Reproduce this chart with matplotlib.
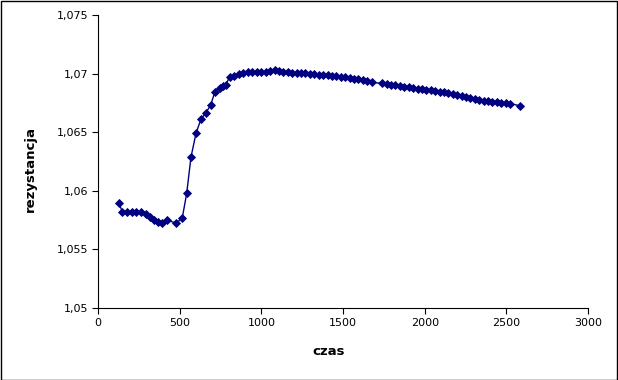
import matplotlib
matplotlib.use("Agg")
import matplotlib.pyplot as plt
from matplotlib.patches import Rectangle

# czas [s] i rezystancja
czas = [128, 149, 177, 206, 234, 263, 292, 320, 345, 369, 394, 422, 479, 516,
        543, 569, 600, 630, 661, 690, 716, 746, 766, 781, 808, 834, 864, 889,
        916, 944, 971, 998, 1026, 1052, 1083, 1110, 1134, 1161, 1187, 1216,
        1243, 1270, 1297, 1324, 1351, 1378, 1405, 1432, 1459, 1486, 1513,
        1540, 1567, 1594, 1621, 1648, 1675,
        1740, 1767, 1794, 1821, 1848, 1875, 1902, 1929, 1956, 1983, 2010,
        2037, 2064, 2091, 2118, 2145, 2172, 2199, 2226, 2253, 2280, 2307,
        2334, 2361, 2388, 2415, 2442, 2469, 2496, 2523, 2582]
rezystancja = [1.0590, 1.05817, 1.05817, 1.05817, 1.05817, 1.05817, 1.0580,
               1.05774, 1.05755, 1.05736, 1.05728, 1.05751, 1.05723, 1.0577,
               1.05979, 1.06286, 1.06491, 1.0661, 1.06667, 1.06732, 1.06846,
               1.06875, 1.06894, 1.06905, 1.06974, 1.06982, 1.06994, 1.07008,
               1.07014, 1.07014, 1.07016, 1.07014, 1.07016, 1.07022, 1.07031,
               1.0702, 1.07014, 1.07011, 1.07008, 1.07008,
               1.07005, 1.07002, 1.06999, 1.06996, 1.06992, 1.06988, 1.06984,
               1.06980, 1.06976, 1.06972, 1.06967, 1.06962, 1.06956, 1.06950,
               1.06942, 1.06934, 1.06926,
               1.06916, 1.06910, 1.06904, 1.06899, 1.06894, 1.06889, 1.06883,
               1.06877, 1.06871, 1.06866, 1.06860, 1.06856, 1.06850, 1.06846,
               1.06840, 1.06834, 1.06822, 1.06814, 1.06808, 1.06800, 1.06794,
               1.06786, 1.06774, 1.06770, 1.06766, 1.06760, 1.06755, 1.06751,
               1.06747, 1.06744, 1.06726]

y_ticks = [1.05, 1.055, 1.06, 1.065, 1.07, 1.075]
y_labels = ['1,05', '1,055', '1,06', '1,065', '1,07', '1,075']
x_ticks = [0, 500, 1000, 1500, 2000, 2500, 3000]

fig = plt.figure(figsize=(6.18, 3.8), dpi=100)
ax = fig.add_axes([0.1586, 0.1895, 0.7929, 0.771])

ax.plot(czas, rezystancja, color='#000080', linewidth=1,
        marker='D', markersize=4.5, markeredgewidth=0.6)

ax.set_xlim(0, 3000)
ax.set_ylim(1.05, 1.075)
ax.set_xticks(x_ticks)
ax.set_xticklabels([str(t) for t in x_ticks])
ax.set_yticks(y_ticks)
ax.set_yticklabels(y_labels)
ax.tick_params(direction='out', length=4, width=0.8, labelsize=8, pad=3)

ax.spines['top'].set_visible(False)
ax.spines['right'].set_visible(False)

ax.set_xlabel('czas', fontsize=9.5, fontweight='bold', va='center')
ax.set_ylabel('rezystancja', fontsize=9.5, fontweight='bold', va='center')
ax.xaxis.set_label_coords(0.471, -0.147)
ax.yaxis.set_label_coords(-0.139, 0.474)

# ramka wokol calego obrazka
fig.patches.append(Rectangle((0.001, 0.001), 0.997, 0.996, transform=fig.transFigure,
                             fill=False, edgecolor='black', linewidth=1))

fig.savefig('out.png', dpi=100)
